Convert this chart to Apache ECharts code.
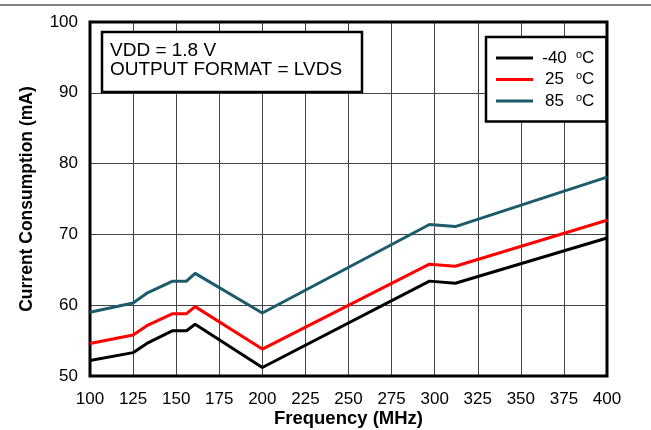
<!DOCTYPE html>
<html><head><meta charset="utf-8">
<script src="https://cdn.jsdelivr.net/npm/echarts@6/dist/echarts.min.js"></script>
<style>html,body{margin:0;padding:0;background:#fff}#c{width:651px;height:430px}</style>
</head><body><div id="c"></div>
<script>
const freqMHz = [100, 125, 133, 148, 156, 161, 200, 297, 312, 400];
const currentM40 = [52.2, 53.3, 54.6, 56.4, 56.4, 57.3, 51.2, 63.4, 63.1, 69.5];
const current25 = [54.6, 55.8, 57.1, 58.8, 58.8, 59.8, 53.8, 65.8, 65.5, 72.0];
const current85 = [59.0, 60.3, 61.7, 63.4, 63.4, 64.5, 58.9, 71.4, 71.1, 78.1];
const seriesNames = ['-40', '25', '85'];
const seriesColors = ['#000000', '#ff0000', '#1c5b6b'];
const annotationLines = ['VDD = 1.8 V', 'OUTPUT FORMAT = LVDS'];
const xAxisTitle = 'Frequency (MHz)';
const yAxisTitle = 'Current Consumption (mA)';

const FONT = "'Liberation Sans', Arial, sans-serif";
const values = [currentM40, current25, current85];
const chart = echarts.init(document.getElementById('c'), null, {renderer: 'canvas'});
chart.setOption({
  animation: false,
  backgroundColor: '#fff',
  textStyle: {fontFamily: FONT},
  grid: {left: 90, right: 44, top: 22, bottom: 54, show: true, borderColor: '#000', borderWidth: 3,
    backgroundColor: 'transparent', z: 3, containLabel: false, outerBoundsMode: 'none'},
  xAxis: {
    type: 'value', min: 100, max: 400, interval: 25,
    axisLine: {show: false}, axisTick: {show: false},
    splitLine: {show: true, lineStyle: {color: '#444', width: 1}},
    axisLabel: {color: '#000', fontSize: 17, fontFamily: FONT, margin: 15},
    name: xAxisTitle, nameLocation: 'middle', nameGap: 33, nameMoveOverlap: false,
    nameTextStyle: {color: '#000', fontSize: 18.5, fontWeight: 'bold', fontFamily: FONT}
  },
  yAxis: {
    type: 'value', min: 50, max: 100, interval: 10,
    axisLine: {show: false}, axisTick: {show: false},
    splitLine: {show: true, lineStyle: {color: '#444', width: 1}},
    axisLabel: {color: '#000', fontSize: 17, fontFamily: FONT, margin: 12},
    name: yAxisTitle, nameLocation: 'middle', nameGap: 54, nameMoveOverlap: false,
    nameTextStyle: {color: '#000', fontSize: 17.5, fontWeight: 'bold', fontFamily: FONT}
  },
  legend: {
    orient: 'vertical', left: 486, top: 37,
    width: 118,
    padding: [12, 12, 12, 10],
    backgroundColor: '#fff', borderColor: '#000', borderWidth: 2.5,
    itemWidth: 37, itemHeight: 3, itemGap: 4, icon: 'rect',
    data: seriesNames,
    formatter: name => `{n|${name}}{s|o}{c|C}`,
    textStyle: {
      color: '#000', fontFamily: FONT, fontSize: 17,
      rich: {
        n: {fontSize: 17, width: 33, align: 'right', lineHeight: 18, padding: [0, 5, 0, 0]},
        s: {fontSize: 11, verticalAlign: 'top', lineHeight: 11},
        c: {fontSize: 17, lineHeight: 18}
      }
    }
  },
  graphic: [
    {type: 'line', shape: {x1: 0, y1: 5, x2: 651, y2: 5}, style: {stroke: '#808080', lineWidth: 2}},
    {type: 'rect', z: 100, shape: {x: 102, y: 32, width: 260, height: 60},
      style: {fill: '#fff', stroke: '#000', lineWidth: 2.5}},
    {type: 'text', z: 101, x: 110, y: 42,
      style: {text: annotationLines.join('\n'), fill: '#000', font: `19px ${FONT}`, lineHeight: 18.5, textVerticalAlign: 'top'}}
  ],
  series: values.map((arr, k) => ({
    name: seriesNames[k], type: 'line', symbol: 'none', z: 5,
    lineStyle: {color: seriesColors[k], width: 3},
    itemStyle: {color: seriesColors[k]},
    data: freqMHz.map((f, i) => [f, arr[i]])
  }))
});
</script></body></html>
